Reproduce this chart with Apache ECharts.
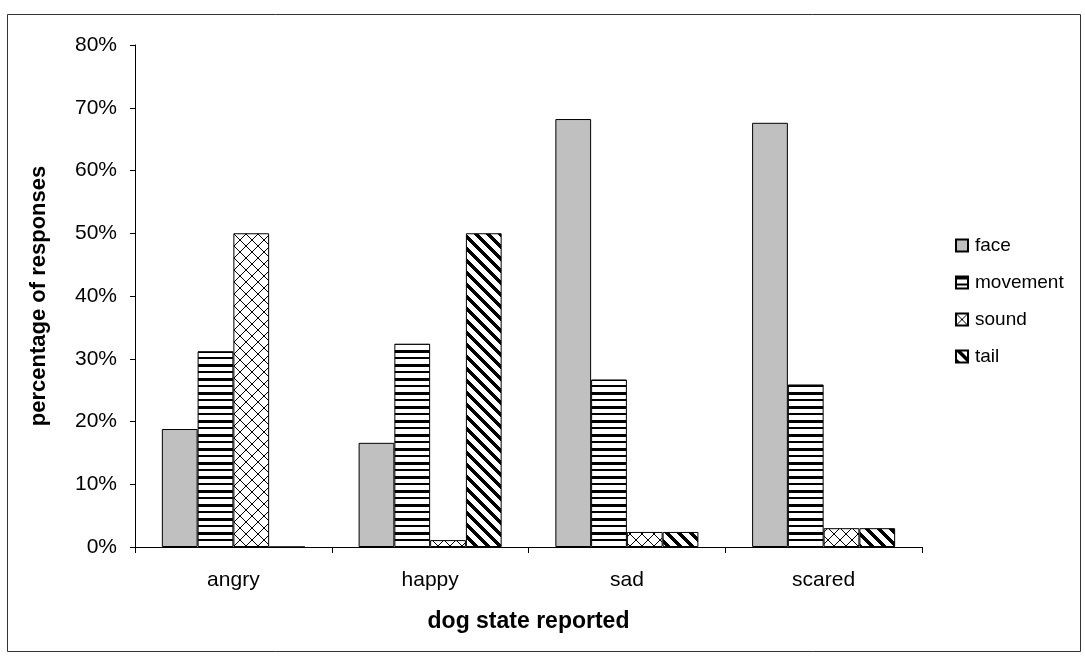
<!DOCTYPE html>
<html>
<head>
<meta charset="utf-8">
<script src="https://cdn.jsdelivr.net/npm/echarts@6/dist/echarts.min.js"></script>
<style>
  html, body { margin: 0; padding: 0; background: #fff; }
  #chart { width: 1085px; height: 659px; }
</style>
</head>
<body>
<div id="chart"></div>
<script>
// Share of responses (%) naming each cue, per reported dog state
const categories = ['angry', 'happy', 'sad', 'scared'];
const faceValues = [18.8, 16.6, 68.2, 67.6];
const movementValues = [31.2, 32.4, 26.7, 25.9];
const soundValues = [50.0, 1.1, 2.4, 3.0];
const tailValues = [0, 50.0, 2.4, 3.0];
const seriesNames = ['face', 'movement', 'sound', 'tail'];

// Monochrome fill patterns drawn on small tiles
function tile(w, h, draw) {
  const c = document.createElement('canvas');
  c.width = w; c.height = h;
  const ctx = c.getContext('2d');
  ctx.fillStyle = '#ffffff';
  ctx.fillRect(0, 0, w, h);
  ctx.fillStyle = '#000000';
  draw(ctx, w, h);
  return { image: c, repeat: 'repeat' };
}

const stripeFill = tile(4, 14, (ctx, w) => {
  ctx.fillRect(0, 0, w, 3);
  ctx.fillRect(0, 7, w, 2);
});

const latticeFill = tile(12, 12, (ctx, w) => {
  for (let i = 0; i < w; i++) {
    ctx.fillRect(i, i, 1, 1);
    ctx.fillRect(w - 1 - i, i, 1, 1);
  }
});

const diagonalFill = tile(12, 12, (ctx, w, h) => {
  for (let y = 0; y < h; y++) {
    for (let x = 0; x < w; x++) {
      if (((x - y) % 12 + 12) % 12 < 5) ctx.fillRect(x, y, 1, 1);
    }
  }
});

const fills = ['#c0c0c0', stripeFill, latticeFill, diagonalFill];
const values = [faceValues, movementValues, soundValues, tailValues];

const font = 'Liberation Sans, Arial, sans-serif';

const chart = echarts.init(document.getElementById('chart'), null, { renderer: 'canvas' });

chart.setOption({
  animation: false,
  backgroundColor: '#ffffff',
  graphic: [{
    type: 'rect',
    shape: { x: 7.5, y: 14.5, width: 1073, height: 637 },
    style: { fill: 'none', stroke: '#333333', lineWidth: 1 },
    silent: true,
    z: -1
  }],
  grid: { left: 135, right: 163, top: 45, bottom: 112 },
  legend: {
    orient: 'vertical',
    left: 950,
    top: 231,
    icon: 'rect',
    itemWidth: 12,
    itemHeight: 12,
    itemGap: 18,
    textStyle: { fontFamily: font, fontSize: 19, color: '#000', lineHeight: 19, padding: [0, 0, 0, 2] },
    data: seriesNames
  },
  xAxis: {
    type: 'category',
    data: categories,
    name: 'dog state reported',
    nameLocation: 'middle',
    nameGap: 63,
    nameTextStyle: { fontFamily: font, fontSize: 23, fontWeight: 'bold', color: '#000' },
    axisLine: { lineStyle: { color: '#000', width: 1 } },
    axisTick: { show: true, length: 6, lineStyle: { color: '#000' } },
    axisLabel: { fontFamily: font, fontSize: 21, color: '#000', margin: 23 }
  },
  yAxis: {
    type: 'value',
    min: 0,
    max: 80,
    interval: 10,
    name: 'percentage of responses',
    nameLocation: 'middle',
    nameGap: 85,
    nameTextStyle: { fontFamily: font, fontSize: 22, fontWeight: 'bold', color: '#000' },
    axisLine: { show: true, lineStyle: { color: '#000', width: 1 } },
    axisTick: { show: true, length: 5, lineStyle: { color: '#000' } },
    splitLine: { show: false },
    axisLabel: { fontFamily: font, fontSize: 21, color: '#000', margin: 18, formatter: '{value}%' }
  },
  series: seriesNames.map((name, i) => ({
    name: name,
    type: 'bar',
    data: values[i],
    barGap: '0%',
    barCategoryGap: '27.3%',
    itemStyle: { color: fills[i], borderColor: '#000', borderWidth: 1 }
  }))
});
</script>
</body>
</html>
